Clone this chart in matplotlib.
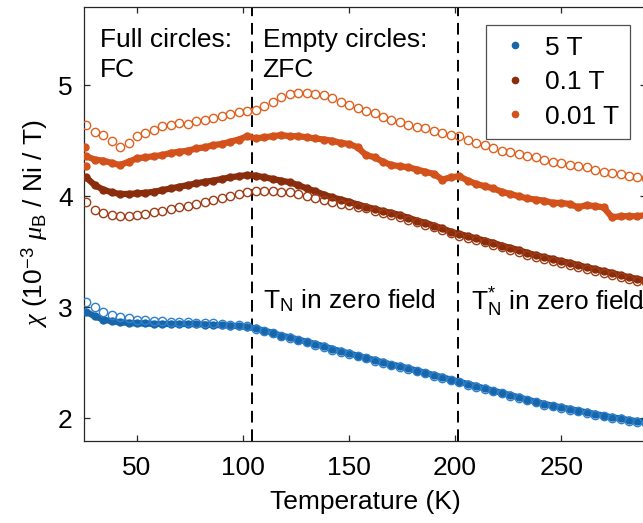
import matplotlib
matplotlib.use('Agg')
import matplotlib.pyplot as plt
from matplotlib.lines import Line2D

plt.rcParams['font.family'] = ['Liberation Sans', 'DejaVu Sans']
plt.rcParams['mathtext.fontset'] = 'custom'
plt.rcParams['mathtext.rm'] = 'Liberation Sans'
plt.rcParams['mathtext.it'] = 'Liberation Serif:italic'
plt.rcParams['font.size'] = 19

# Temperatura (K)
temps = [26, 30, 34, 38, 42, 46, 50, 54, 58, 62, 66, 70, 74, 78, 82, 86, 90, 94,
         98, 102, 106, 110, 114, 118, 122, 126, 130, 134, 138, 142, 146, 150, 154,
         158, 162, 166, 170, 174, 178, 182, 186, 190, 194, 198, 202, 206, 210, 214,
         218, 222, 226, 230, 234, 238, 242, 246, 250, 254, 258, 262, 266, 270, 274,
         278, 282, 286, 290]

# 5 T
chi_5T_fc = [2.96, 2.92, 2.89, 2.875, 2.865, 2.86, 2.855, 2.855, 2.85, 2.85, 2.85, 2.85,
             2.85, 2.848, 2.845, 2.84, 2.84, 2.835, 2.83, 2.825, 2.81, 2.79, 2.77, 2.745,
             2.73, 2.71, 2.69, 2.67, 2.65, 2.625, 2.605, 2.585, 2.565, 2.545, 2.525, 2.505,
             2.485, 2.47, 2.45, 2.43, 2.41, 2.39, 2.37, 2.35, 2.33, 2.31, 2.29, 2.27,
             2.25, 2.23, 2.21, 2.19, 2.17, 2.15, 2.13, 2.115, 2.10, 2.085, 2.07, 2.055,
             2.04, 2.025, 2.01, 2.0, 1.985, 1.975, 1.965]
chi_5T_zfc = [3.05, 3.00, 2.96, 2.93, 2.915, 2.90, 2.89, 2.885, 2.88, 2.875, 2.87, 2.87,
              2.865, 2.86, 2.86, 2.855, 2.85, 2.845, 2.84, 2.83, 2.805, 2.785, 2.765, 2.74,
              2.725, 2.705, 2.685, 2.665, 2.645, 2.62, 2.60, 2.58, 2.56, 2.54, 2.52, 2.50,
              2.48, 2.465, 2.445, 2.425, 2.405, 2.385, 2.365, 2.345, 2.325, 2.305, 2.285, 2.265,
              2.245, 2.225, 2.205, 2.185, 2.165, 2.145, 2.125, 2.11, 2.095, 2.08, 2.065, 2.05,
              2.035, 2.02, 2.005, 1.995, 1.98, 1.97, 1.96]

# 0.1 T
chi_01T_fc = [4.17, 4.10, 4.06, 4.035, 4.02, 4.02, 4.025, 4.03, 4.04, 4.055, 4.07, 4.085,
              4.10, 4.115, 4.13, 4.14, 4.155, 4.17, 4.18, 4.19, 4.185, 4.17, 4.155, 4.14,
              4.125, 4.10, 4.07, 4.045, 4.015, 3.99, 3.97, 3.95, 3.925, 3.905, 3.885, 3.865,
              3.85, 3.83, 3.805, 3.78, 3.76, 3.735, 3.71, 3.68, 3.66, 3.64, 3.62, 3.60,
              3.58, 3.555, 3.535, 3.515, 3.49, 3.47, 3.45, 3.435, 3.415, 3.40, 3.38, 3.36,
              3.345, 3.325, 3.31, 3.29, 3.27, 3.255, 3.24]
chi_01T_zfc = [3.95, 3.88, 3.85, 3.83, 3.82, 3.825, 3.83, 3.84, 3.86, 3.87, 3.885, 3.90,
               3.915, 3.93, 3.95, 3.965, 3.985, 4.00, 4.02, 4.04, 4.045, 4.045, 4.045, 4.04,
               4.035, 4.02, 4.00, 3.98, 3.965, 3.945, 3.93, 3.925, 3.905, 3.89, 3.87, 3.85,
               3.835, 3.815, 3.79, 3.765, 3.745, 3.72, 3.695, 3.665, 3.645, 3.625, 3.605, 3.585,
               3.565, 3.54, 3.52, 3.50, 3.475, 3.455, 3.435, 3.42, 3.40, 3.385, 3.365, 3.345,
               3.33, 3.31, 3.295, 3.275, 3.255, 3.24, 3.225]

# 0.01 T
temps_001_fc = [25.6, 25.9] + temps
chi_001T_fc = [4.44, 4.27,
               4.36, 4.33, 4.32, 4.30, 4.28, 4.31, 4.34, 4.35, 4.36, 4.37, 4.39, 4.40,
               4.41, 4.43, 4.44, 4.46, 4.47, 4.49, 4.51, 4.54, 4.52, 4.53, 4.54, 4.55,
               4.54, 4.54, 4.53, 4.52, 4.51, 4.50, 4.48, 4.47, 4.44, 4.37, 4.35, 4.31,
               4.28, 4.27, 4.26, 4.24, 4.22, 4.20, 4.15, 4.17, 4.18, 4.14, 4.11, 4.09,
               4.07, 4.04, 4.02, 4.00, 3.98, 3.97, 3.96, 3.94, 3.94, 3.93, 3.90, 3.92,
               3.91, 3.90, 3.81, 3.82, 3.82, 3.82, 3.83]
chi_001T_zfc = [4.64, 4.58, 4.55, 4.50, 4.44, 4.48, 4.54, 4.57, 4.60, 4.63, 4.64, 4.66,
                4.65, 4.68, 4.69, 4.70, 4.72, 4.74, 4.76, 4.77, 4.78, 4.81, 4.85, 4.89,
                4.92, 4.93, 4.93, 4.92, 4.91, 4.88, 4.85, 4.82, 4.79, 4.77, 4.75, 4.71,
                4.69, 4.67, 4.64, 4.62, 4.61, 4.59, 4.57, 4.55, 4.54, 4.51, 4.48, 4.46,
                4.43, 4.41, 4.40, 4.38, 4.36, 4.35, 4.33, 4.31, 4.30, 4.28, 4.27, 4.26,
                4.24, 4.22, 4.21, 4.20, 4.18, 4.17, 4.16]

t_neel = [104, 201.5]

c_5T = '#1766aa'
c_5T_e = '#2f80cc'
c_01T = '#8a2d0c'
c_01T_e = '#a03c16'
c_001T = '#d3521b'
c_001T_e = '#e0611f'

fig = plt.figure(figsize=(6.43, 5.23), dpi=100)
ax = fig.add_axes([0.1306, 0.1574, 0.874, 0.8287])

# FC: circulos cheios
for chi, col in [(chi_5T_fc, c_5T), (chi_01T_fc, c_01T)]:
    ax.plot(temps, chi, '-', color=col, lw=4.5, solid_capstyle='round', zorder=3)
    ax.plot(temps, chi, 'o', color=col, ms=5, zorder=3)
ax.plot(temps_001_fc[2:], chi_001T_fc[2:], '-', color=c_001T, lw=4.5,
        solid_capstyle='round', zorder=3)
ax.plot(temps_001_fc, chi_001T_fc, 'o', color=c_001T, ms=5, zorder=3)

# ZFC: circulos vazios
for chi, col in [(chi_5T_zfc, c_5T_e), (chi_01T_zfc, c_01T_e), (chi_001T_zfc, c_001T_e)]:
    ax.plot(temps, chi, 'o', mfc='none', mec=col, ms=6, mew=1.0, zorder=4)

for t in t_neel:
    ax.axvline(t, color='k', ls=(0, (6, 3.5)), lw=1.4, zorder=2)

ax.text(32.5, 5.51, 'Full circles:\nFC', va='top', ha='left', linespacing=1.3)
ax.text(109.2, 5.51, 'Empty circles:\nZFC', va='top', ha='left', linespacing=1.3)
ax.text(109.2, 2.99, r'T$_{\mathrm{N}}$ in zero field', va='baseline', ha='left')
ax.text(207.3, 2.97, r'T$_{\mathrm{N}}^{*}$ in zero field', va='baseline', ha='left')

ax.set_xlim(25, 290)
ax.set_ylim(1.8, 5.7)
ax.set_xticks([50, 100, 150, 200, 250])
ax.set_yticks([2, 3, 4, 5])
ax.tick_params(direction='in', top=True, right=True, length=4.5, width=0.9,
               colors='#262626', labelcolor='k', pad=8)
ax.tick_params(axis='x', pad=11)
for s in ax.spines.values():
    s.set_color('#262626')
    s.set_linewidth(0.9)

ax.set_xlabel('Temperature (K)', labelpad=7)
ax.set_ylabel(r'$\chi$ ($10^{-3}$ $\mu_{\mathrm{B}}$ / Ni / T)', labelpad=6)

handles = [Line2D([], [], marker='o', ls='none', color=c, ms=4.5)
           for c in [c_5T, c_01T, c_001T]]
leg = ax.legend(handles, ['5 T', '0.1 T', '0.01 T'], loc='upper right',
                bbox_to_anchor=(0.9715, 0.959), frameon=True, fancybox=False,
                handlelength=1.4, handletextpad=0.45, borderpad=0.4, labelspacing=0.4,
                borderaxespad=0)
leg.get_frame().set_edgecolor('#262626')
leg.get_frame().set_linewidth(0.9)

fig.savefig('out.png', dpi=100)
